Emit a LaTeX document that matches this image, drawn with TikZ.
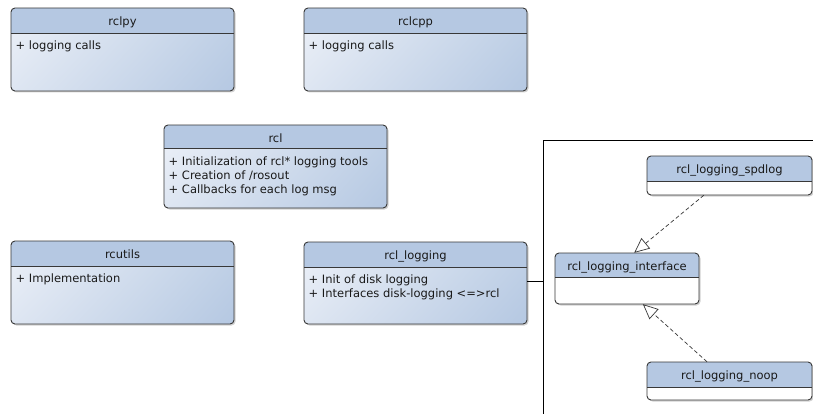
\documentclass[tikz,border=0pt]{standalone}
\usepackage{fontspec}
\setmainfont{DejaVu Sans}
\usetikzlibrary{arrows.meta,fit,calc,shadings}
\definecolor{hdr}{RGB}{181,200,226}
\definecolor{bUL}{RGB}{237,241,248}
\definecolor{bLL}{RGB}{222,230,242}
\definecolor{bUR}{RGB}{194,210,231}
\definecolor{bLR}{RGB}{181,200,226}
\definecolor{outl}{RGB}{56,56,56}
\tikzset{
  outline/.style={draw=outl, line width=0.9pt},
  boxshadow/.style={fill=black, opacity=0.18},
  txt/.style={font=\fontsize{11.5}{14}\selectfont, inner sep=0, text=black!90},
  realize/.style={outline, dashed, dash pattern=on 4pt off 2.5pt, line width=0.7pt,
    -{Triangle[open, length=15pt, width=13.5pt, line width=0.7pt]}},
  frameline/.style={draw=black, line width=0.9pt}
}
% #1 name, #2 x1, #3 y1, #4 x2, #5 y2, #6 header y, #7 title, #8 shaded(1)/white(0)
\newcommand\umlbox[8]{%
  \fill[boxshadow, rounded corners=4] (#2+1.5,#3+1.5) rectangle (#4+1.5,#5+1.5);
  \ifnum#8=1
    \shade[rounded corners=4, upper left=bUL, lower left=bLL, upper right=bUR, lower right=bLR] (#2,#3) rectangle (#4,#5);
  \else
    \fill[white, rounded corners=4] (#2,#3) rectangle (#4,#5);
  \fi
  \begin{scope}
    \clip[rounded corners=4] (#2,#3) rectangle (#4,#5);
    \fill[hdr] (#2,#3) rectangle (#4,#6);
  \end{scope}
  \draw[outline, rounded corners=4] (#2,#3) rectangle (#4,#5);
  \draw[outline] (#2,#6) -- (#4,#6);
  \node[fit={(#2,#3) (#4,#5)}, inner sep=0] (#1) {};
  \node[txt, anchor=base] at ({(#2+#4)/2}, #3+17.5) {#7};
}
\begin{document}
\begin{tikzpicture}[x=1pt, y=-1pt]
\useasboundingbox (0,0) rectangle (813,414);
\fill[white] (0,0) rectangle (813,414);

\umlbox{rclpy}{11}{8}{234}{91}{33}{rclpy}{1}
\node[txt, anchor=base west] (rclpyA) at (15.5,49.5) {+ logging calls};

\umlbox{rclcpp}{304}{8}{527}{91}{33}{rclcpp}{1}
\node[txt, anchor=base west] (rclcppA) at (308.5,49.5) {+ logging calls};

\umlbox{rcl}{164}{125}{387}{208}{148}{rcl}{1}
\node[txt, anchor=base west] (rclA) at (168.5,165.5) {+ Initialization of rcl* logging tools};
\node[txt, anchor=base west] (rclB) at (168.5,179.5) {+ Creation of /rosout};
\node[txt, anchor=base west] (rclC) at (168.5,193.5) {+ Callbacks for each log msg};

\umlbox{rcutils}{11}{241}{234}{324}{266}{rcutils}{1}
\node[txt, anchor=base west] (rcutilsA) at (15.5,282.5) {+ Implementation};

\umlbox{rcllogging}{304}{242}{527}{324}{267}{rcl\_logging}{1}
\node[txt, anchor=base west] (rcllogA) at (308.5,283.5) {+ Init of disk logging};
\node[txt, anchor=base west] (rcllogB) at (308.5,297.5) {+ Interfaces disk-logging <=>rcl};

% frame
\coordinate (fright) at (813,140);
\coordinate (fcorner) at (543.5,140);
\coordinate (fbottom) at (543.5,414);
\coordinate (fjoin) at (543.5,281);
\draw[frameline] (fright) -- (fcorner) -- (fbottom);
\draw[frameline] (rcllogging.east |- fjoin) -- (fjoin);

\umlbox{spdlog}{647}{156}{812}{195}{181}{rcl\_logging\_spdlog}{0}
\umlbox{iface}{555}{253}{699}{304}{277}{rcl\_logging\_interface}{0}
\umlbox{noop}{647}{362}{812}{400}{387}{rcl\_logging\_noop}{0}

\draw[realize] ($(spdlog.south west)!0.345!(spdlog.south east)$) -- ($(iface.north west)!0.55!(iface.north east)$);
\draw[realize] ($(noop.north west)!0.364!(noop.north east)$) -- ($(iface.south west)!0.61!(iface.south east)$);
\end{tikzpicture}
\end{document}
